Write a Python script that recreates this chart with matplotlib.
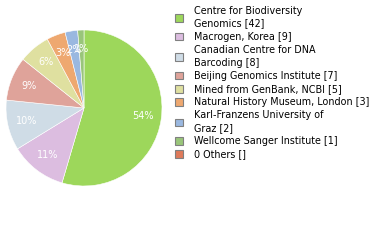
import matplotlib.pyplot as plt
from matplotlib.patches import Patch

labels = ['Centre for Biodiversity\nGenomics', 'Macrogen, Korea', 'Canadian Centre for DNA\nBarcoding',
          'Beijing Genomics Institute', 'Mined from GenBank, NCBI', 'Natural History Museum, London',
          'Karl-Franzens University of\nGraz', 'Wellcome Sanger Institute']
counts = [42, 9, 8, 7, 5, 3, 2, 1]
colors = ['#9dd75b', '#dcbde0', '#cfdce6', '#dfa39a', '#dfe0a0', '#eea870', '#9ab8e0', '#99c57a']
others_label = '0 Others []'
others_color = '#df7a5a'

fig = plt.figure(figsize=(3.8, 2.4), dpi=100)
ax = fig.add_axes([0.0158, 0.225, 0.4105, 0.65])

wedges, texts, autotexts = ax.pie(counts, colors=colors, startangle=90, counterclock=False,
                                  autopct=lambda p: '{}%'.format(int(p)), pctdistance=0.76,
                                  wedgeprops={'edgecolor': 'white', 'linewidth': 0.4},
                                  textprops={'color': 'white', 'fontsize': 7})
ax.set_xlim(-1, 1)
ax.set_ylim(-1, 1)
ax.set_aspect('equal')

handles = [Patch(facecolor=c, edgecolor='#808080', linewidth=0.8) for c in colors]
handles.append(Patch(facecolor=others_color, edgecolor='#808080', linewidth=0.8))
leg_labels = ['{} [{}]'.format(l, n) for l, n in zip(labels, counts)] + [others_label]
leg = fig.legend(handles, leg_labels, loc='upper left', bbox_to_anchor=(0.445, 1.0), frameon=False,
                 fontsize=6.9, handlelength=0.85, handleheight=0.85, handletextpad=1.1,
                 labelspacing=0.33, borderaxespad=0.2)
for t in leg.get_texts():
    t.set_linespacing(1.35)

plt.savefig('out.png', dpi=100)
